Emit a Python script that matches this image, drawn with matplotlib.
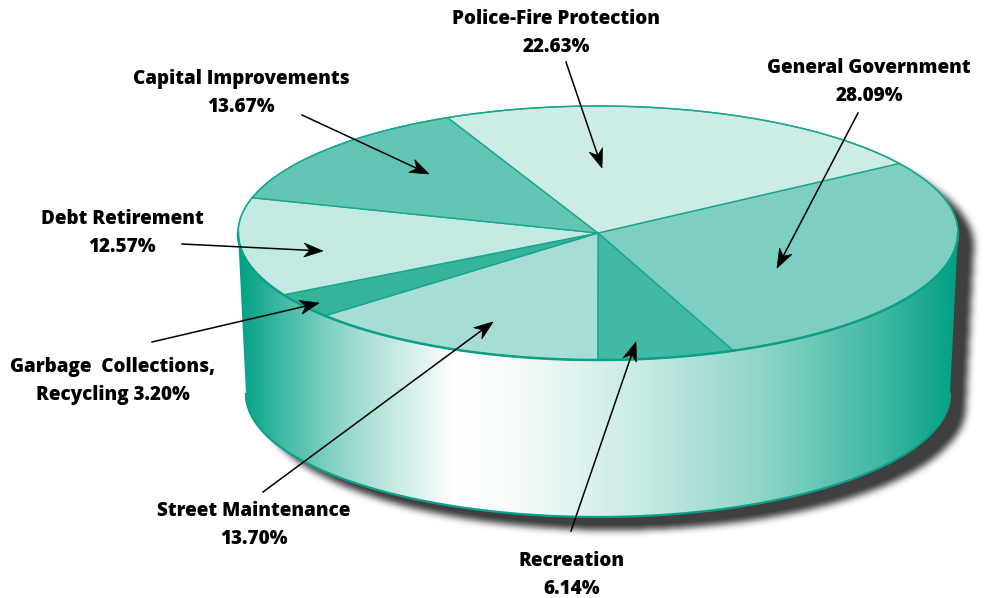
import numpy as np
import matplotlib
matplotlib.use('Agg')
import matplotlib.pyplot as plt
from matplotlib.path import Path
from matplotlib.patches import Polygon

# данные
labels = ['General Government', 'Recreation', 'Street Maintenance',
          'Garbage  Collections,\nRecycling', 'Debt Retirement',
          'Capital Improvements', 'Police-Fire Protection']
values = [28.09, 6.14, 13.70, 3.20, 12.57, 13.67, 22.63]
colors = ['#7ecfc1', '#42b9a4', '#a6ded5', '#36b39d', '#c3e9e3', '#63c5b4', '#cdece6']

# подписи: центр текста, хвост стрелки, острие стрелки (в пикселях)
label_pos = [(869, 82), (572, 575), (254, 525), (113, 381), (122, 233), (241, 93), (556, 33)]
arrow_tail = [(858, 113), (571, 531), (263, 492), (152, 342), (182, 244), (302, 115), (566, 62)]
arrow_head = [(777, 268), (636, 342), (493, 322), (319, 303), (323, 251), (429, 174), (602, 168)]

W, H = 990, 598
cx, cy, rx, ry = 598, 233, 360, 127       # верхний эллипс
bcx, bcy, brx, bry = 598, 394, 352, 123   # нижний эллипс
start_angle = 33.2
edge = '#1aa68e'


def ell(x0, y0, a, b, t):
    t = np.radians(t)
    return np.column_stack([x0 + a * np.cos(t), y0 - b * np.sin(t)])


def blur(a, r):
    k = np.ones(2 * r + 1) / (2 * r + 1)
    a = np.apply_along_axis(lambda v: np.convolve(v, k, mode='same'), 0, a)
    a = np.apply_along_axis(lambda v: np.convolve(v, k, mode='same'), 1, a)
    return a


fig = plt.figure(figsize=(W / 100, H / 100), dpi=100)
ax = fig.add_axes([0, 0, 1, 1])
ax.set_xlim(0, W)
ax.set_ylim(H, 0)
ax.axis('off')

# силуэт цилиндра
sil = np.vstack([ell(cx, cy, rx, ry, np.linspace(0, 180, 200)),
                 ell(bcx, bcy, brx, bry, np.linspace(180, 360, 200))])
sil_path = Path(np.vstack([sil, sil[:1]]), closed=True)

# тень
yy, xx = np.mgrid[0:H, 0:W] + 0.5
pts = np.column_stack([xx.ravel() - 16, yy.ravel() - 13])
mask = sil_path.contains_points(pts).reshape(H, W).astype(float)
for _ in range(3):
    mask = blur(mask, 3)
shadow = np.zeros((H, W, 4))
shadow[..., :3] = 0.25
shadow[..., 3] = np.clip(mask * 1.05, 0, 1)
ax.imshow(shadow, extent=(0, W, H, 0), aspect='auto', zorder=1, interpolation='bilinear')

# боковая поверхность с градиентом
side = np.vstack([ell(cx, cy, rx, ry, np.linspace(180, 360, 200)),
                  ell(bcx, bcy, brx, bry, np.linspace(360, 180, 200))])
side_patch = Polygon(side, closed=True, facecolor='none', edgecolor='none')
ax.add_patch(side_patch)
stops_x = [238, 280, 340, 400, 455, 520, 640, 760, 880, 958]
stops_c = ['#00a084', '#3bb8a2', '#8ed6c9', '#cdebe6', '#ffffff', '#f5fbfa',
           '#c8ebe4', '#8fd6c9', '#40b8a2', '#00a084']
rgb = np.array([matplotlib.colors.to_rgb(c) for c in stops_c])
gx = np.arange(W) + 0.5
grad = np.stack([np.interp(gx, stops_x, rgb[:, i]) for i in range(3)], axis=-1)
grad = np.repeat(grad[None, :, :], 2, axis=0)
im = ax.imshow(grad, extent=(0, W, H, 0), aspect='auto', zorder=2)
im.set_clip_path(side_patch)
ax.plot(*ell(bcx, bcy, brx, bry, np.linspace(180, 360, 300)).T, color='#0da088', lw=1.6, zorder=3)

# верх пирога
angles = start_angle - np.concatenate([[0], np.cumsum(values)]) * 3.6
for i in range(len(values)):
    arc = ell(cx, cy, rx, ry, np.linspace(angles[i], angles[i + 1], 100))
    poly = np.vstack([[cx, cy], arc])
    ax.add_patch(Polygon(poly, closed=True, facecolor=colors[i], edgecolor=edge,
                         lw=1.0, zorder=4))
ax.plot(*ell(cx, cy, rx, ry, np.linspace(0, 360, 400)).T, color=edge, lw=1.0, zorder=5)
ax.plot(*ell(cx, cy, rx, ry, np.linspace(180, 360, 300)).T, color='#0da088', lw=1.8, zorder=5)

# стрелки
for (x0, y0), (x1, y1) in zip(arrow_tail, arrow_head):
    d = np.array([x1 - x0, y1 - y0], float)
    u = d / np.hypot(*d)
    n = np.array([-u[1], u[0]])
    tip = np.array([x1, y1], float)
    L, hw = 19, 7
    back = tip - L * u
    notch = tip - 0.7 * L * u
    ax.plot([x0, notch[0]], [y0, notch[1]], color='black', lw=1.1, zorder=6)
    ax.add_patch(Polygon([tip, back + hw * n, notch, back - hw * n], closed=True,
                         facecolor='black', edgecolor='black', lw=0.5, zorder=6))

# подписи
for i, (x, y) in enumerate(label_pos):
    text = labels[i]
    if '\n' in text:
        line1, rest = text.split('\n')
        line2 = f'{rest} {values[i]:.2f}%'
    else:
        line1, line2 = text, f'{values[i]:.2f}%'
    for yy_, t in ((y - 14, line1), (y + 14, line2)):
        ax.text(x, yy_, t, ha='center', va='center', fontsize=13.6, fontweight='heavy',
                family='Open Sans', color='black', zorder=7)

fig.savefig('out.png', dpi=100)
